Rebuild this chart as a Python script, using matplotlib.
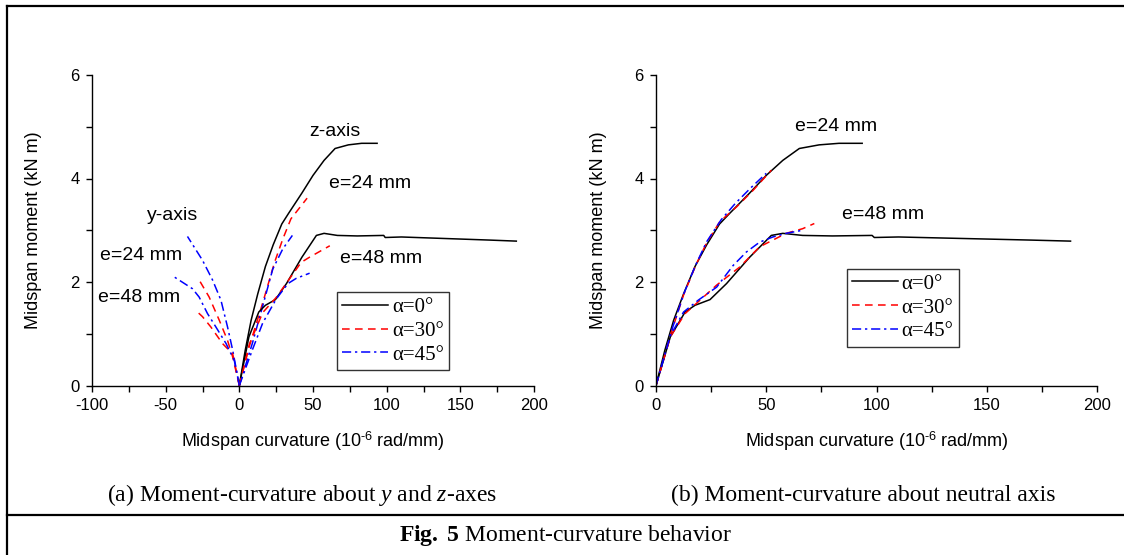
import matplotlib
matplotlib.use("Agg")
import matplotlib.pyplot as plt
from matplotlib.lines import Line2D
from matplotlib.ticker import MultipleLocator

plt.rcParams['font.family'] = ['Liberation Sans', 'DejaVu Sans']
plt.rcParams['axes.unicode_minus'] = False
plt.rcParams['mathtext.fontset'] = 'custom'
plt.rcParams['mathtext.rm'] = 'Liberation Serif'
plt.rcParams['mathtext.it'] = 'Liberation Serif:italic'
plt.rcParams['mathtext.bf'] = 'Liberation Serif:bold'

# ---------------- data ----------------
# alpha = 0 (same curve about z-axis and neutral axis)
a0_e24_x = [0, 4, 8, 12.5, 17.7, 23, 28.8, 33.5, 42.5, 50, 57.5, 65, 74, 83, 93.5]
a0_e24_y = [0, 0.68, 1.26, 1.77, 2.3, 2.72, 3.12, 3.33, 3.72, 4.06, 4.35, 4.58, 4.65, 4.68, 4.68]
a0_e48_x = [0, 6.5, 13.2, 17.7, 24.5, 32, 42.5, 52.3, 57.5, 66.5, 80, 98, 99, 110, 130, 150, 170, 188]
a0_e48_y = [0, 0.94, 1.42, 1.55, 1.66, 1.97, 2.48, 2.9, 2.94, 2.9, 2.89, 2.9, 2.86, 2.87, 2.85, 2.83, 2.81, 2.79]

# (a) z-axis
z_a30_e24_x = [0, 6.8, 15.9, 23.9, 29.5, 35, 46]
z_a30_e24_y = [0, 0.76, 1.6, 2.38, 2.83, 3.22, 3.62]
z_a45_e24_x = [0, 9, 15.9, 22.7, 29.5, 36]
z_a45_e24_y = [0, 0.83, 1.54, 2.25, 2.64, 2.9]
z_a30_e48_x = [0, 6.8, 15.9, 25, 33, 42, 47.7, 61.4]
z_a30_e48_y = [0, 0.8, 1.41, 1.7, 2.02, 2.38, 2.48, 2.7]
z_a45_e48_x = [0, 9, 15.9, 25, 33, 38.6, 47.7]
z_a45_e48_y = [0, 0.7, 1.21, 1.67, 1.97, 2.07, 2.17]

# (a) y-axis
y_a30_e24_x = [0, -4.5, -8, -13.6, -20.5, -27.3]
y_a30_e24_y = [0, 0.55, 0.87, 1.26, 1.71, 2.04]
y_a45_e24_x = [0, -4.5, -8, -12.5, -18.2, -25, -35.2]
y_a45_e24_y = [0, 0.68, 1.13, 1.65, 2.04, 2.42, 2.88]
y_a30_e48_x = [0, -4.5, -11.4, -19.3, -25, -28.4]
y_a30_e48_y = [0, 0.61, 0.81, 1.13, 1.33, 1.42]
y_a45_e48_x = [0, -3.4, -9, -15.9, -21.6, -27.3, -31.8, -44.3]
y_a45_e48_y = [0, 0.48, 0.81, 1.13, 1.39, 1.71, 1.87, 2.1]

# (b) neutral axis
n_a30_e24_x = [0, 7.2, 12.5, 18, 23, 29, 36.5, 44, 52.3]
n_a30_e24_y = [0, 1.06, 1.75, 2.32, 2.76, 3.17, 3.45, 3.77, 4.16]
n_a45_e24_x = [0, 7, 12.5, 18, 23, 29.5, 36, 43, 50]
n_a45_e24_y = [0, 1.05, 1.76, 2.33, 2.78, 3.2, 3.52, 3.82, 4.1]
n_a30_e48_x = [0, 6.5, 13.2, 20, 27.5, 38, 47, 53, 59, 66.5, 71.8]
n_a30_e48_y = [0, 0.94, 1.39, 1.65, 1.94, 2.29, 2.68, 2.81, 2.94, 3.03, 3.13]
n_a45_e48_x = [0, 6.5, 12.5, 19.2, 27.5, 35, 41, 47, 53, 59, 66.5]
n_a45_e48_y = [0, 0.96, 1.42, 1.65, 1.9, 2.32, 2.58, 2.77, 2.87, 2.94, 3.0]

legend_labels = ['α=0°', 'α=30°', 'α=45°']
xlabel = 'Midspan curvature (10$^{\\mathregular{\u20106}}$ rad/mm)'
ylabel = 'Midspan moment (kN m)'

# ---------------- styles ----------------
LW = 1.1
s0 = dict(color='black', lw=LW, ls='-')
s30 = dict(color='#ff0000', lw=LW, ls=(0, (5, 3.5)))
s45 = dict(color='#0000ff', lw=LW, ls=(0, (6, 2.5, 1.5, 2.5)))

W, H = 1124, 555
fig = plt.figure(figsize=(W / 100, H / 100), dpi=100)

def fx(px):
    return px / W

def fy(py):
    return 1 - py / H

axL = fig.add_axes([fx(92), fy(385.5), fx(534) - fx(92), fy(75) - fy(385.5)])
axR = fig.add_axes([fx(656), fy(385.5), fx(1097) - fx(656), fy(75) - fy(385.5)])

def style(ax, xmin):
    ax.set_xlim(xmin, 200)
    ax.set_ylim(0, 6)
    for s in ['top', 'right']:
        ax.spines[s].set_visible(False)
    for s in ['left', 'bottom']:
        ax.spines[s].set_linewidth(1.0)
    ax.xaxis.set_major_locator(MultipleLocator(50))
    ax.xaxis.set_minor_locator(MultipleLocator(25))
    ax.yaxis.set_major_locator(MultipleLocator(2))
    ax.yaxis.set_minor_locator(MultipleLocator(1))
    ax.tick_params(which='both', direction='out', width=1.0, labelsize=12, pad=5)
    ax.tick_params(which='major', length=4)
    ax.tick_params(which='minor', length=4)
    ax.set_xlabel(xlabel, fontsize=13)
    ax.set_ylabel(ylabel, fontsize=13)
    ax.xaxis.set_label_coords(0.5, -0.143)
    ax.yaxis.set_label_coords(-0.112, 0.5)

style(axL, -100)
style(axR, 0)

# ---- left panel
axL.plot(a0_e24_x, a0_e24_y, **s0, label=legend_labels[0])
axL.plot(z_a30_e24_x, z_a30_e24_y, **s30, label=legend_labels[1])
axL.plot(z_a45_e24_x, z_a45_e24_y, **s45, label=legend_labels[2])
axL.plot(a0_e48_x, a0_e48_y, **s0)
axL.plot(z_a30_e48_x, z_a30_e48_y, **s30)
axL.plot(z_a45_e48_x, z_a45_e48_y, **s45)
axL.plot(y_a30_e24_x, y_a30_e24_y, **s30)
axL.plot(y_a45_e24_x, y_a45_e24_y, **s45)
axL.plot(y_a30_e48_x, y_a30_e48_y, **s30)
axL.plot(y_a45_e48_x, y_a45_e48_y, **s45)

ann = dict(fontsize=14, ha='center', va='center')
axL.text(64.8, 4.91, 'z-axis', **ann)
axL.text(88.7, 3.91, 'e=24 mm', **ann)
axL.text(96.5, 2.46, 'e=48 mm', **ann)
axL.text(-45.3, 3.29, 'y-axis', **ann)
axL.text(-66.9, 2.51, 'e=24 mm', **ann)
axL.text(-68, 1.70, 'e=48 mm', **ann)

# ---- right panel
axR.plot(a0_e24_x, a0_e24_y, **s0, label=legend_labels[0])
axR.plot(n_a30_e24_x, n_a30_e24_y, **s30, label=legend_labels[1])
axR.plot(n_a45_e24_x, n_a45_e24_y, **s45, label=legend_labels[2])
axR.plot(a0_e48_x, a0_e48_y, **s0)
axR.plot(n_a30_e48_x, n_a30_e48_y, **s30)
axR.plot(n_a45_e48_x, n_a45_e48_y, **s45)
axR.text(81.7, 5.01, 'e=24 mm', **ann)
axR.text(103, 3.31, 'e=48 mm', **ann)

def legend(ax, x0, y0):
    lg = ax.legend(loc='upper left', bbox_to_anchor=(fx(x0), fy(y0)),
                   bbox_transform=fig.transFigure, fancybox=False,
                   framealpha=1, edgecolor='#333333', borderpad=0.25,
                   handlelength=2.2, handletextpad=0.2, labelspacing=0.2,
                   borderaxespad=0, prop={'family': 'Liberation Serif', 'size': 15})
    lg.get_frame().set_linewidth(1.0)

legend(axL, 337, 292.5)
legend(axR, 846.5, 269)

# ---- captions
cap = dict(fontsize=17, family='Liberation Serif', ha='center', va='center')
fig.text(fx(302), fy(495), '(a) Moment-curvature about $\\mathit{y}$ and $\\mathit{z}$-axes', **cap)
fig.text(fx(863), fy(495), '(b) Moment-curvature about neutral axis', **cap)
fig.text(fx(565), fy(536), '$\\mathbf{Fig.\\ 5}$ Moment-curvature behavior', **cap)

# ---- frame lines
lw_f = 1.6
fig.add_artist(Line2D([fx(7), fx(7)], [fy(6), 0], color='black', lw=lw_f))
fig.add_artist(Line2D([fx(7), 1], [fy(6), fy(6)], color='black', lw=lw_f))
fig.add_artist(Line2D([fx(7), 1], [fy(515), fy(515)], color='black', lw=lw_f))

fig.savefig('out.png', dpi=100)
